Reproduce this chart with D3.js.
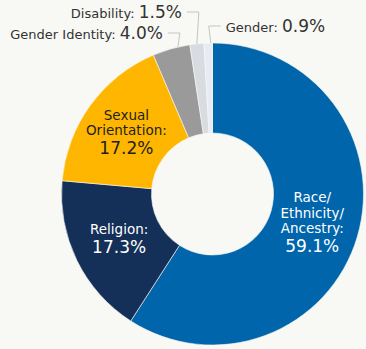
<!DOCTYPE html>
<html>
<head>
<meta charset="utf-8">
<script src="https://cdnjs.cloudflare.com/ajax/libs/d3/7.8.5/d3.min.js"></script>
<style>
  body { margin: 0; background: #f8f9f5; }
  svg { display: block; font-family: "DejaVu Sans", Verdana, sans-serif; }
</style>
</head>
<body>
<div id="chart"></div>
<script>
// categories, clockwise from 12 o'clock
var categories = ["Race/Ethnicity/Ancestry", "Religion", "Sexual Orientation", "Gender Identity", "Disability", "Gender"];
var values = [59.1, 17.3, 17.2, 4.0, 1.5, 0.9];
var labelLines = [["Race/", "Ethnicity/", "Ancestry:"], ["Religion:"], ["Sexual", "Orientation:"], ["Gender Identity:"], ["Disability:"], ["Gender:"]];
var colors = ["#0065ab", "#142f58", "#ffb600", "#9a9a9a", "#d8dce1", "#e7ebf3"];

var width = 366,
    height = 349;
var cx = 212.5, cy = 194,
    outerR = 151, innerR = 61;

var data = categories.map(function(c, i) {
    return { name: c, value: values[i], lines: labelLines[i], color: colors[i] };
});

var svg = d3.select('#chart').append('svg')
    .attr('width', width)
    .attr('height', height);

var g = svg.append('g').attr('transform', 'translate(' + cx + ',' + cy + ')');

var pie = d3.pie().sort(null).value(function(d) { return d.value; });
var arc = d3.arc().innerRadius(innerR).outerRadius(outerR);
var arcs = pie(data);

g.selectAll('path.slice')
    .data(arcs)
    .enter().append('path')
    .attr('class', 'slice')
    .attr('d', arc)
    .attr('fill', function(d) { return d.data.color; })
    .attr('stroke', '#f8f9f5')
    .attr('stroke-width', 0.6);

var fmt = function(v) { return v.toFixed(1) + '%'; };

// labels inside the big slices
var inside = arcs.filter(function(d) { return d.data.value > 10; });
var lineH = 15.5, valGap = 19;
inside.forEach(function(d, i) {
    var c = d3.arc().innerRadius(104).outerRadius(104).centroid(d);
    var n = d.data.lines.length;
    var blockH = (n - 1) * lineH + valGap + 10;
    var y0 = c[1] - blockH / 2 + 9;
    var dark = d.data.color === "#ffb600";
    var t = g.append('text')
        .attr('text-anchor', 'middle')
        .attr('fill', dark ? '#1e1e1e' : '#ffffff');
    d.data.lines.forEach(function(l, j) {
        t.append('tspan').attr('x', c[0] - (dark ? 2 : 0)).attr('y', y0 + j * lineH)
            .style('font-size', '13.5px').text(l);
    });
    t.append('tspan').attr('x', c[0] - (dark ? 2 : 0)).attr('y', y0 + (n - 1) * lineH + valGap)
        .style('font-size', '17px').text(fmt(d.data.value));
});

// small slices: labels outside with leader lines
var outside = arcs.filter(function(d) { return d.data.value < 10; });
var labelY = { "Gender Identity": -155, "Disability": -176, "Gender": -162 };
var labelSide = { "Gender Identity": -1, "Disability": -1, "Gender": 1 };
var anchorAt = { "Gender Identity": 0.68, "Disability": 0.5, "Gender": 0.8 };

outside.forEach(function(d) {
    var a = d.startAngle + (d.endAngle - d.startAngle) * anchorAt[d.data.name];
    var p = [outerR * Math.sin(a), -outerR * Math.cos(a)];
    var ly = labelY[d.data.name];
    var side = labelSide[d.data.name];
    var mid = ly - 6;
    var xEnd = p[0] + side * 10;
    g.append('polyline')
        .attr('points', [[p[0], p[1]], [p[0] - side * 2, mid], [xEnd, mid]].map(function(q) { return q.join(','); }).join(' '))
        .attr('fill', 'none')
        .attr('stroke', '#c4c4c4')
        .attr('stroke-width', 1);
    var t = g.append('text')
        .attr('x', xEnd + side * 5)
        .attr('y', ly)
        .attr('fill', '#333333')
        .attr('text-anchor', side < 0 ? 'end' : 'start');
    t.append('tspan').style('font-size', '13px').text(d.data.lines[0] + ' ');
    t.append('tspan').style('font-size', '17px').text(fmt(d.data.value));
});
</script>
</body>
</html>
